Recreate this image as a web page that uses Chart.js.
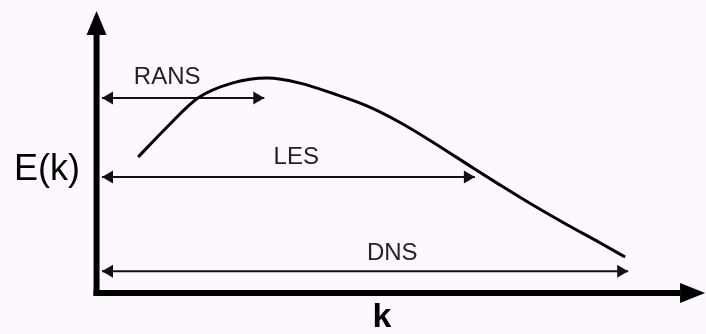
<!DOCTYPE html>
<html><head><meta charset="utf-8">
<script src="https://cdn.jsdelivr.net/npm/chart.js@4.4.1/dist/chart.umd.min.js"></script>
<style>html,body{margin:0;padding:0;background:#fdf8fd;overflow:hidden}</style>
</head><body>
<canvas id="c" width="706" height="334"></canvas>
<script>
// Energy spectrum curve E(k)
const curveK = [6.9, 11.7, 16.8, 22.6, 28.3, 33.7, 39.2, 44.8, 50.3, 55.8, 62.4, 66.9, 72.3, 77.9, 83.5, 87.6];
const curveE = [48.4, 59.1, 69.4, 74.8, 76.5, 74.7, 71.0, 66.6, 60.7, 53.6, 44.5, 38.4, 31.3, 24.4, 17.8, 12.8];
// Resolved ranges (double arrows)
const rangeNames = ['RANS', 'LES', 'DNS'];
const rangeStart = [0.9, 0.9, 0.9];
const rangeEnd = [27.8, 62.7, 88.1];
const rangeLevel = [69.4, 41.3, 7.7];
const rangeLabelK = [11.7, 33.1, 49.0];
const rangeLabelE = [76.9, 48.4, 14.2];
// Axes
const axisXEnd = 96.7;
const axisYEnd = 91.8;
const axisTitles = ['k', 'E(k)'];
const axisTitleK = [47.3, -8.2];
const axisTitleE = [-8.9, 43.6];

const datasets = [];
datasets.push({
  data: curveK.map((k, i) => ({x: k, y: curveE[i]})),
  borderColor: '#000', borderWidth: 3, cubicInterpolationMode: 'monotone',
  showLine: true, pointRadius: 0, arrow: null
});
rangeNames.forEach((n, i) => {
  datasets.push({
    data: [{x: rangeStart[i], y: rangeLevel[i]}, {x: rangeEnd[i], y: rangeLevel[i]}],
    borderColor: '#111', borderWidth: 2, showLine: true, pointRadius: 0,
    arrow: {both: true, len: 11, half: 6.5, tipAtPoint: true}
  });
});
datasets.push({
  data: [{x: 0, y: -1.1}, {x: 0, y: axisYEnd}],
  borderColor: '#000', borderWidth: 6, showLine: true, pointRadius: 0,
  arrow: {both: false, len: 24, half: 10, tipAtPoint: false}
});
datasets.push({
  data: [{x: -0.5, y: 0}, {x: axisXEnd, y: 0}],
  borderColor: '#000', borderWidth: 6, showLine: true, pointRadius: 0,
  arrow: {both: false, len: 25, half: 10, tipAtPoint: false}
});

function head(ctx, tip, dx, dy, len, half) {
  const px = -dy, py = dx;
  ctx.beginPath();
  ctx.moveTo(tip.x, tip.y);
  ctx.lineTo(tip.x - dx * len + px * half, tip.y - dy * len + py * half);
  ctx.lineTo(tip.x - dx * len - px * half, tip.y - dy * len - py * half);
  ctx.closePath();
  ctx.fill();
}

const deco = {
  id: 'deco',
  beforeDraw(chart) {
    const ctx = chart.ctx;
    ctx.save();
    ctx.fillStyle = '#fdf8fd';
    ctx.fillRect(0, 0, chart.width, chart.height);
    ctx.restore();
  },
  afterDatasetsDraw(chart) {
    const ctx = chart.ctx;
    const xs = chart.scales.x, ys = chart.scales.y;
    ctx.save();
    chart.data.datasets.forEach((ds, di) => {
      if (!ds.arrow) return;
      const pts = chart.getDatasetMeta(di).data;
      const a = pts[0], b = pts[pts.length - 1];
      let dx = b.x - a.x, dy = b.y - a.y;
      const L = Math.hypot(dx, dy); dx /= L; dy /= L;
      ctx.fillStyle = ds.borderColor;
      const o = ds.arrow;
      const tipB = o.tipAtPoint ? {x: b.x, y: b.y} : {x: b.x + dx * o.len, y: b.y + dy * o.len};
      head(ctx, tipB, dx, dy, o.len, o.half);
      if (o.both) {
        const tipA = o.tipAtPoint ? {x: a.x, y: a.y} : {x: a.x - dx * o.len, y: a.y - dy * o.len};
        head(ctx, tipA, -dx, -dy, o.len, o.half);
      }
    });
    ctx.textAlign = 'center';
    ctx.textBaseline = 'middle';
    ctx.fillStyle = '#222';
    ctx.font = '24px "Liberation Sans", Arial, sans-serif';
    rangeNames.forEach((n, i) => {
      ctx.fillText(n, xs.getPixelForValue(rangeLabelK[i]), ys.getPixelForValue(rangeLabelE[i]));
    });
    ctx.fillStyle = '#000';
    ctx.font = 'bold 34px "Liberation Sans", Arial, sans-serif';
    ctx.fillText(axisTitles[0], xs.getPixelForValue(axisTitleK[0]), ys.getPixelForValue(axisTitleE[0]));
    ctx.font = '36px "Liberation Sans", Arial, sans-serif';
    ctx.fillText(axisTitles[1], xs.getPixelForValue(axisTitleK[1]), ys.getPixelForValue(axisTitleE[1]));
    ctx.restore();
  }
};

new Chart(document.getElementById('c'), {
  type: 'scatter',
  data: {datasets},
  options: {
    responsive: false, animation: false, devicePixelRatio: 1,
    layout: {padding: 0},
    scales: {
      x: {type: 'linear', min: -16, max: 101, display: false},
      y: {type: 'linear', min: -14.6, max: 104.3, display: false}
    },
    plugins: {legend: {display: false}, tooltip: {enabled: false}},
    elements: {line: {borderCapStyle: 'butt'}}
  },
  plugins: [deco]
});
</script>
</body></html>
